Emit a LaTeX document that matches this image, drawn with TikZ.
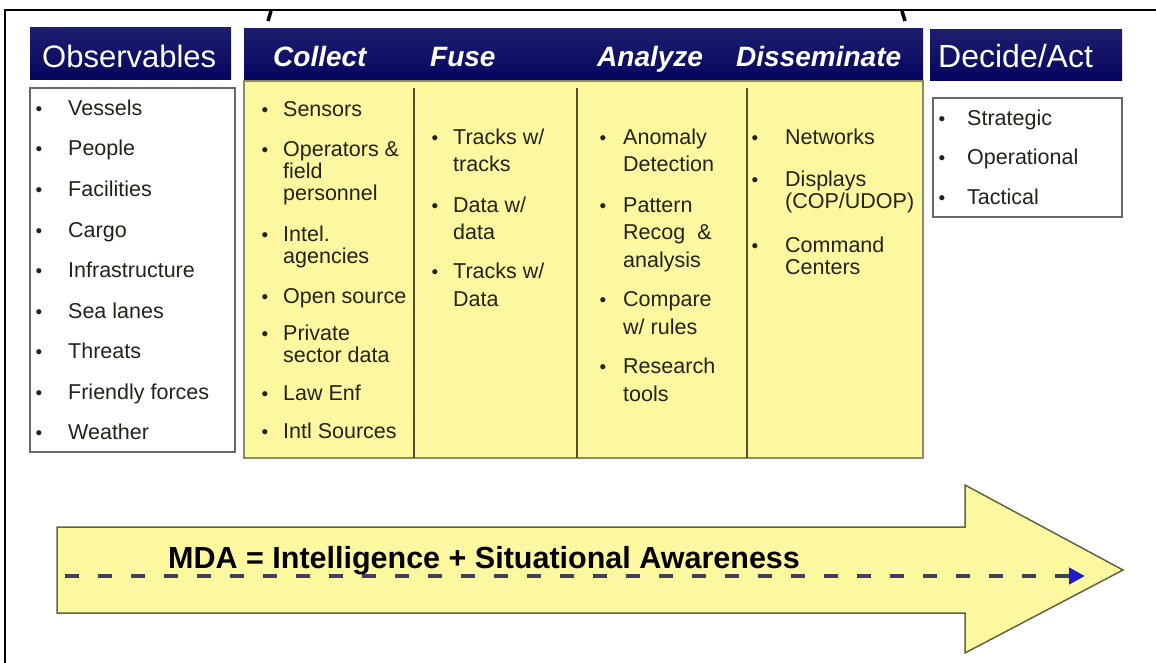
\documentclass[tikz,border=0pt]{standalone}
\usepackage{fontspec}
\setmainfont{Liberation Sans}
\usetikzlibrary{arrows.meta}
\definecolor{mdayellow}{RGB}{251,248,160}
\definecolor{navytop}{RGB}{30,30,110}
\definecolor{navymid}{RGB}{15,25,215}
\definecolor{navybot}{RGB}{5,5,95}
\definecolor{txtcol}{RGB}{35,35,25}
\definecolor{boxline}{RGB}{105,105,105}
\definecolor{yelline}{RGB}{140,140,100}
\definecolor{divline}{RGB}{80,80,50}
\definecolor{dashcol}{RGB}{65,65,90}
\definecolor{tipblue}{RGB}{30,30,200}
\newcommand{\lines}[1]{\begin{tabular}[t]{@{}l@{}}#1\end{tabular}}
\begin{document}
\begin{tikzpicture}[x=1pt,y=-1pt,
  headbar/.style={top color=navytop,middle color=navymid,bottom color=navybot},
  headtxt/.style={anchor=base west,inner sep=0,text=white,font=\fontsize{31}{31}\selectfont},
  stagetxt/.style={anchor=base west,inner sep=0,text=white,font=\fontsize{28}{28}\selectfont\bfseries\itshape},
  item/.style={anchor=base west,inner sep=0,text=txtcol,font=\fontsize{21.5}{21.5}\selectfont},
  wideitem/.style={item,font=\fontsize{21.5}{27.5}\selectfont},
  bul/.style={anchor=base,inner sep=0,text=txtcol,font=\fontsize{19}{19}\selectfont}]
  \useasboundingbox (0,0) rectangle (1156,663);

  % Frame and brace ends
  \draw[line width=2] (5,663) -- (5,10) -- (1156,10);
  \draw[line width=3.5] (268,21) -- (271,11);
  \draw[line width=3.5] (905,21) -- (902,11);

  % Header bars
  \shade[headbar] (30,28) rectangle (231,80);
  \shade[headbar] (244,29) rectangle (923,81);
  \shade[headbar] (930,30) rectangle (1122,81);
  \node[headtxt] (obsHead) at (42,68) {Observables};
  \node[stagetxt] (collectHead) at (273,67) {Collect};
  \node[stagetxt] (fuseHead) at (430,67) {Fuse};
  \node[stagetxt] (analyzeHead) at (597,67) {Analyze};
  \node[stagetxt] (dissHead) at (736,67) {Disseminate};
  \node[headtxt,font=\fontsize{32}{32}\selectfont] (decideHead) at (938,68) {Decide/Act};

  % Boxes
  \draw[boxline,line width=1.6,fill=white] (30,88) rectangle (235,452);
  \draw[boxline,line width=1.6,fill=white] (933,98) rectangle (1122,217);
  \filldraw[fill=mdayellow,draw=yelline,line width=1.2] (244,81) rectangle (923,458);
  \foreach \x in {414,577,747}
    \draw[divline,line width=1.6] (\x,88) -- (\x,458);

  % Observables
  \foreach \t [count=\i] in {Vessels,People,Facilities,Cargo,Infrastructure,
      Sea lanes,Threats,Friendly forces,Weather} {
    \node[bul] (obsB\i) at (39,{115.5+40.5*(\i-1)}) {•};
    \node[item] (obs\i) at (68,{115.5+40.5*(\i-1)}) {\t};
  }

  % Collect
  \foreach \y/\t [count=\i] in {109/Sensors, 149/{Operators \&\\field\\personnel},
      234/{Intel.\\agencies}, 296/Open source, 333/{Private\\sector data},
      393/Law Enf, 431/Intl Sources} {
    \node[bul] (colB\i) at (265,\y+7.5) {•};
    \node[item] (col\i) at (283,\y+7.5) {\lines{\t}};
  }

  % Fuse
  \foreach \y/\t [count=\i] in {137/{Tracks w/\\tracks}, 205/{Data w/\\data},
      271/{Tracks w/\\Data}} {
    \node[bul] (fusB\i) at (435,\y+7.5) {•};
    \node[wideitem] (fus\i) at (453,\y+7.5) {\lines{\t}};
  }

  % Analyze
  \foreach \y/\t [count=\i] in {137/{Anomaly\\Detection}, 205/{Pattern\\Recog\ \ \&\\analysis},
      299/{Compare\\w/ rules}, 366/{Research\\tools}} {
    \node[bul] (anaB\i) at (603,\y+7.5) {•};
    \node[wideitem] (ana\i) at (623,\y+7.5) {\lines{\t}};
  }

  % Disseminate
  \foreach \y/\t [count=\i] in {137/Networks, 179/{Displays\\(COP/UDOP)},
      245/{Command\\Centers}} {
    \node[bul] (disB\i) at (755,\y+7.5) {•};
    \node[item] (dis\i) at (785,\y+7.5) {\lines{\t}};
  }

  % Decide/Act
  \foreach \y/\t [count=\i] in {118/Strategic, 157/Operational, 197/Tactical} {
    \node[bul] (decB\i) at (942,\y+7.5) {•};
    \node[item] (dec\i) at (967,\y+7.5) {\t};
  }

  % Big arrow
  \filldraw[fill=mdayellow,draw=yelline!70!black,line width=1.5]
    (57,527) -- (965,527) -- (965,485) -- (1123,570) -- (965,653)
    -- (965,613) -- (57,613) -- cycle;
  \coordinate (dashL) at (65,576);
  \coordinate (dashR) at (1085,576);
  \draw[dashcol,line width=4,dash pattern=on 14pt off 19pt,
    -{Triangle[length=16pt,width=16pt,color=tipblue]}] (dashL) -- (dashR);
  \node[anchor=base west,inner sep=0,font=\fontsize{30.5}{30.5}\selectfont\bfseries]
    (mda) at (168,568) {MDA = Intelligence + Situational Awareness};
\end{tikzpicture}
\end{document}
